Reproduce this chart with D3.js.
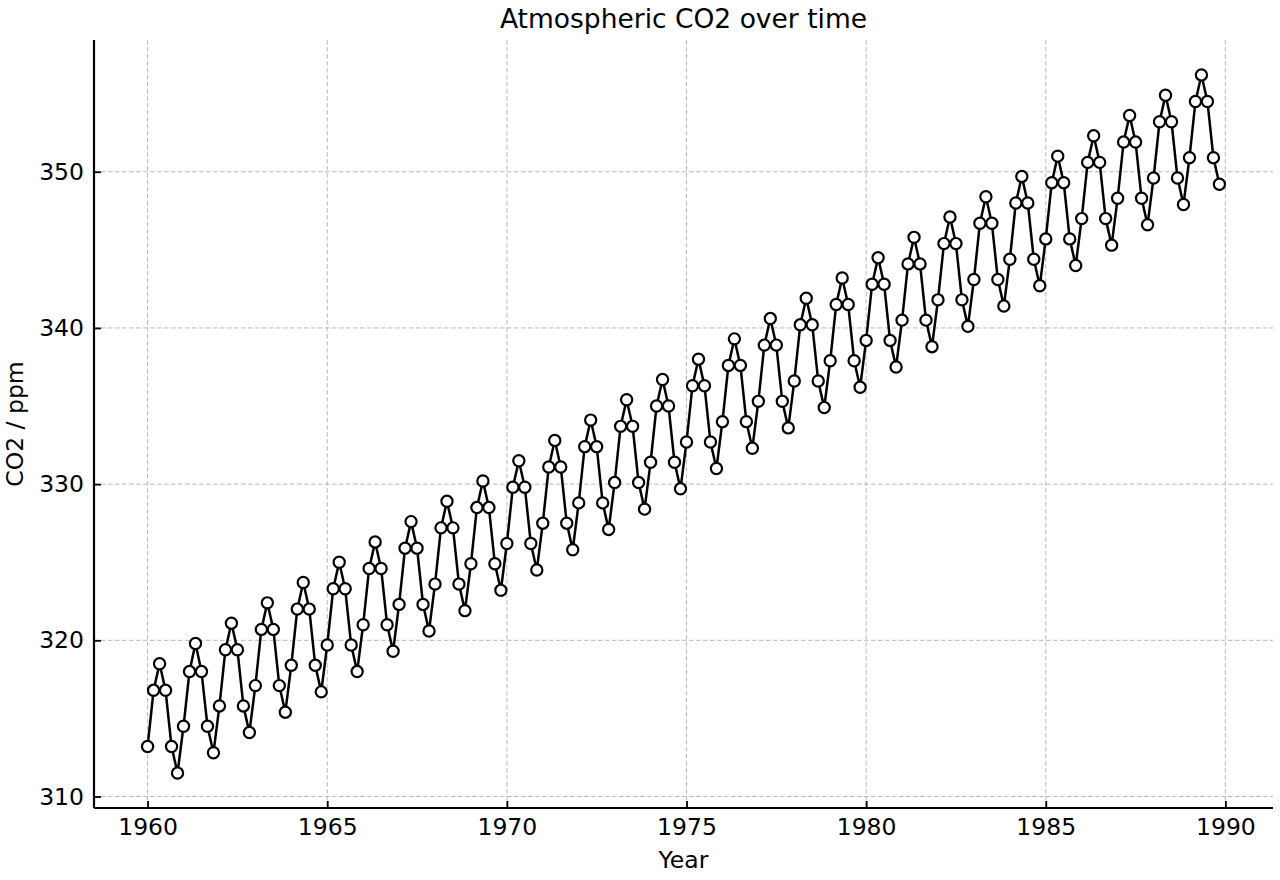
<!DOCTYPE html>
<html>
<head>
<meta charset="utf-8">
<script src="https://cdn.jsdelivr.net/npm/d3@7"></script>
<style>
  body { margin: 0; background: #fff; }
  text { font-family: "DejaVu Sans", sans-serif; fill: #000; }
</style>
</head>
<body>
<div class="chart"></div>
<script>
// sample years and months (one reading every two months)
var years = d3.range(1960, 1990);
var months = [0, 2, 4, 6, 8, 10];

// CO2 readings, one row per year (ppm)
var co2 = [
  313.2, 316.8, 318.5, 316.8, 313.2, 311.5,
  314.5, 318.0, 319.8, 318.0, 314.5, 312.8,
  315.8, 319.4, 321.1, 319.4, 315.8, 314.1,
  317.1, 320.7, 322.4, 320.7, 317.1, 315.4,
  318.4, 322.0, 323.7, 322.0, 318.4, 316.7,
  319.7, 323.3, 325.0, 323.3, 319.7, 318.0,
  321.0, 324.6, 326.3, 324.6, 321.0, 319.3,
  322.3, 325.9, 327.6, 325.9, 322.3, 320.6,
  323.6, 327.2, 328.9, 327.2, 323.6, 321.9,
  324.9, 328.5, 330.2, 328.5, 324.9, 323.2,
  326.2, 329.8, 331.5, 329.8, 326.2, 324.5,
  327.5, 331.1, 332.8, 331.1, 327.5, 325.8,
  328.8, 332.4, 334.1, 332.4, 328.8, 327.1,
  330.1, 333.7, 335.4, 333.7, 330.1, 328.4,
  331.4, 335.0, 336.7, 335.0, 331.4, 329.7,
  332.7, 336.3, 338.0, 336.3, 332.7, 331.0,
  334.0, 337.6, 339.3, 337.6, 334.0, 332.3,
  335.3, 338.9, 340.6, 338.9, 335.3, 333.6,
  336.6, 340.2, 341.9, 340.2, 336.6, 334.9,
  337.9, 341.5, 343.2, 341.5, 337.9, 336.2,
  339.2, 342.8, 344.5, 342.8, 339.2, 337.5,
  340.5, 344.1, 345.8, 344.1, 340.5, 338.8,
  341.8, 345.4, 347.1, 345.4, 341.8, 340.1,
  343.1, 346.7, 348.4, 346.7, 343.1, 341.4,
  344.4, 348.0, 349.7, 348.0, 344.4, 342.7,
  345.7, 349.3, 351.0, 349.3, 345.7, 344.0,
  347.0, 350.6, 352.3, 350.6, 347.0, 345.3,
  348.3, 351.9, 353.6, 351.9, 348.3, 346.6,
  349.6, 353.2, 354.9, 353.2, 349.6, 347.9,
  350.9, 354.5, 356.2, 354.5, 350.9, 349.2
];

var xTicks = [1960, 1965, 1970, 1975, 1980, 1985, 1990];
var yTicks = [310, 320, 330, 340, 350];

var data = [];
years.forEach(function(y, i) {
  months.forEach(function(m, j) {
    data.push({ t: y + m / 12, v: co2[i * months.length + j] });
  });
});

var margin = { top: 40, right: 7, bottom: 72, left: 94 };
var width = 1280 - margin.left - margin.right;
var height = 880 - margin.top - margin.bottom;

var svg = d3.select('.chart')
  .append('svg')
  .attr('width', 1280)
  .attr('height', 880);

var g = svg.append('g')
  .attr('transform', 'translate(' + margin.left + ',' + margin.top + ')');

// matplotlib-like 5% padding
var xExt = d3.extent(data, d => d.t);
var yExt = d3.extent(data, d => d.v);
var xPad = (xExt[1] - xExt[0]) * 0.05;
var yPad = (yExt[1] - yExt[0]) * 0.05;

var xScale = d3.scaleLinear()
  .domain([xExt[0] - xPad, xExt[1] + xPad])
  .range([0, width]);

var yScale = d3.scaleLinear()
  .domain([yExt[0] - yPad, yExt[1] + yPad])
  .range([height, 0]);

// grid
g.append('g')
  .selectAll('line')
  .data(xTicks)
  .enter()
  .append('line')
  .attr('x1', d => xScale(d)).attr('x2', d => xScale(d))
  .attr('y1', 0).attr('y2', height)
  .style('stroke', '#b0b0b0')
  .style('stroke-width', 0.9)
  .style('stroke-dasharray', '4.5,2.5');

g.append('g')
  .selectAll('line')
  .data(yTicks)
  .enter()
  .append('line')
  .attr('x1', 0).attr('x2', width)
  .attr('y1', d => yScale(d)).attr('y2', d => yScale(d))
  .style('stroke', '#b0b0b0')
  .style('stroke-width', 0.9)
  .style('stroke-dasharray', '4.5,2.5');

// axes with inward ticks
var xAxis = g.append('g')
  .attr('transform', 'translate(0,' + height + ')')
  .call(d3.axisBottom(xScale).tickValues(xTicks).tickFormat(d3.format('d'))
    .tickSizeInner(-7).tickSizeOuter(0).tickPadding(10));

var yAxis = g.append('g')
  .call(d3.axisLeft(yScale).tickValues(yTicks)
    .tickSizeInner(-7).tickSizeOuter(0).tickPadding(10));

[xAxis, yAxis].forEach(function(ax) {
  ax.select('.domain').style('stroke', '#000').style('stroke-width', 2.2);
  ax.selectAll('.tick line').style('stroke', '#000').style('stroke-width', 1.8);
  ax.selectAll('.tick text')
    .style('font-family', '"DejaVu Sans", sans-serif')
    .style('font-size', '23.5px')
    .style('fill', '#000');
});
// full-length domain lines
xAxis.select('.domain').attr('d', 'M0,0H' + width);
yAxis.select('.domain').attr('d', 'M0,0V' + height);

var line = d3.line()
  .x(d => xScale(d.t))
  .y(d => yScale(d.v));

g.append('path')
  .datum(data)
  .attr('d', line)
  .style('stroke', '#000')
  .style('stroke-width', 2.5)
  .style('fill', 'none')
  .style('stroke-linejoin', 'round');

g.selectAll('.dot')
  .data(data)
  .enter()
  .append('circle')
  .attr('class', 'dot')
  .attr('cx', line.x())
  .attr('cy', line.y())
  .attr('r', 5.6)
  .style('fill', 'white')
  .style('stroke', '#000')
  .style('stroke-width', 2.2);

// labels
svg.append('text')
  .attr('x', margin.left + width / 2)
  .attr('y', 28)
  .style('text-anchor', 'middle')
  .style('font-size', '26.5px')
  .text('Atmospheric CO2 over time');

svg.append('text')
  .attr('x', margin.left + width / 2)
  .attr('y', 868)
  .style('text-anchor', 'middle')
  .style('font-size', '23.5px')
  .text('Year');

svg.append('text')
  .attr('transform', 'translate(23,' + (margin.top + height / 2) + ') rotate(-90)')
  .style('text-anchor', 'middle')
  .style('font-size', '23.5px')
  .text('CO2 / ppm');
</script>
</body>
</html>
